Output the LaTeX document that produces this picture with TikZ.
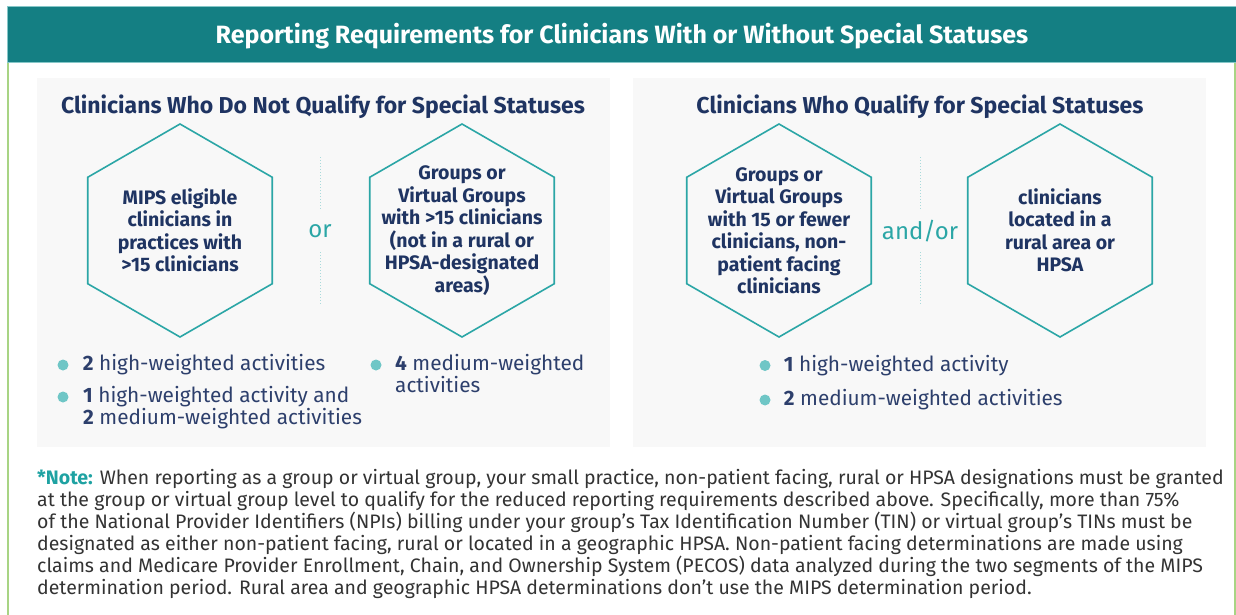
\documentclass[tikz,border=0pt]{standalone}
\usepackage{fontspec}
\setmainfont{Fira Sans}
\usetikzlibrary{shapes.geometric,positioning}
\definecolor{bandteal}{HTML}{147F83}
\definecolor{bandedge}{HTML}{86C7C8}
\definecolor{hexteal}{HTML}{2BA6A6}
\definecolor{dotteal}{HTML}{6FC6C6}
\definecolor{septeal}{HTML}{A9DADB}
\definecolor{navy}{HTML}{1F3462}
\definecolor{bodynavy}{HTML}{2D3F6C}
\definecolor{panelgray}{HTML}{F8F8F8}
\definecolor{framegreen}{HTML}{A8D484}
\definecolor{notegray}{HTML}{333333}
\definecolor{noteteal}{HTML}{1EA2A2}
\tikzstyle{band} = [rectangle, fill=bandteal, draw=bandedge, line width=1pt,
    text=white, font=\fontsize{25}{28}\selectfont\bfseries,
    text height=20pt, text depth=2pt,
    minimum width=1230pt, minimum height=56pt, inner sep=0pt]
\tikzstyle{panel} = [rectangle, fill=panelgray, minimum width=573pt,
    minimum height=369pt, inner sep=0pt]
\tikzstyle{heading} = [text=navy, font=\fontsize{23}{26}\selectfont\bfseries]
\tikzstyle{hexa} = [regular polygon, regular polygon sides=6,
    shape border rotate=30, draw=hexteal, line width=1.6pt,
    minimum size=213pt, inner sep=0pt]
\tikzstyle{hextext} = [text=navy, align=center,
    font=\fontsize{19.5}{22.5}\selectfont\bfseries]
\tikzstyle{conj} = [text=hexteal, font=\fontsize{24}{28}\selectfont,
    minimum height=42pt, inner sep=0pt]
\tikzstyle{sep} = [draw=septeal, line width=1pt, dotted]
\tikzstyle{dot} = [circle, fill=dotteal, minimum size=11pt, inner sep=0pt]
\tikzstyle{item} = [text=bodynavy, align=left, inner sep=0pt,
    font=\fontsize{20.8}{22}\selectfont]
\tikzstyle{note} = [text=notegray, align=left, inner sep=0pt,
    font=\fontsize{19.5}{22}\selectfont]

\begin{document}
\begin{tikzpicture}[x=1pt, y=-1pt]
\useasboundingbox (0,0) rectangle (1236,615);
    % Frame and panels
\draw[framegreen, line width=1.5pt] (8,63) -- (8,615);
\draw[framegreen, line width=1.5pt] (1235,63) -- (1235,615);
\node[band] (title) at (622,35) {Reporting Requirements for Clinicians With or Without Special Statuses};
\node[panel] (lpanel) at (323.5,262.5) {};
\node[panel] (rpanel) at (919.5,262.5) {};
\node[heading] (lhead) at (323,107) {Clinicians Who Do Not Qualify for Special Statuses};
\node[heading] (rhead) at (920,107) {Clinicians Who Qualify for Special Statuses};

    % Place hexagons
\node[hexa] (h1) at (180,230.5) {};
\node[hexa] (h2) at (462,230.5) {};
\node[hexa] (h3) at (779,230.5) {};
\node[hexa] (h4) at (1060,230.5) {};
\node[hextext] at (h1) {MIPS eligible\\clinicians in\\practices with\\>15 clinicians};
\node[hextext] at (h2) {Groups or\\Virtual Groups\\with >15 clinicians\\(not in a rural or\\HPSA-designated\\areas)};
\node[hextext] at (h3) {Groups or\\Virtual Groups\\with 15 or fewer\\clinicians, non-\\patient facing\\clinicians};
\node[hextext] at (h4) {clinicians\\located in a\\rural area or\\HPSA};

    % Separators
\node[conj] (or1) at (320,231) {or};
\node[conj] (or2) at (920,231) {and/or};
\coordinate (s1t) at (320,157); \coordinate (s1b) at (320,304);
\coordinate (s2t) at (920,157); \coordinate (s2b) at (920,304);
\path[sep] (s1t) -- (or1.north);
\path[sep] (or1.south) -- (s1b);
\path[sep] (s2t) -- (or2.north);
\path[sep] (or2.south) -- (s2b);

    % Bullets
\node[dot] (d1) at (63,365) {};
\node[item, right=14pt of d1] (t1) {\textbf{2} high-weighted activities};
\node[dot] (d2) at (63,397) {};
\node[item, anchor=north west] (t2) at (83,386) {\textbf{1} high-weighted activity and\\\textbf{2} medium-weighted activities};
\node[dot] (d3) at (376,365) {};
\node[item, anchor=north west] (t3) at (395,354) {\textbf{4} medium-weighted\\activities};
\node[dot] (d4) at (765,365.5) {};
\node[item, right=13pt of d4] (t4) {\textbf{1} high-weighted activity};
\node[dot] (d5) at (765,400) {};
\node[item, right=13pt of d5] (t5) {\textbf{2} medium-weighted activities};

    % Note
\node[note, anchor=north west] (note) at (37,469) {\textcolor{noteteal}{\textbf{*Note:}} When reporting as a group or virtual group, your small practice, non-patient facing, rural or HPSA designations must be granted\\
at the group or virtual group level to qualify for the reduced reporting requirements described above. Specifically, more than 75\%\\
of the National Provider Identifiers (NPIs) billing under your group’s Tax Identification Number (TIN) or virtual group’s TINs must be\\
designated as either non-patient facing, rural or located in a geographic HPSA. Non-patient facing determinations are made using\\
claims and Medicare Provider Enrollment, Chain, and Ownership System (PECOS) data analyzed during the two segments of the MIPS\\
determination period. Rural area and geographic HPSA determinations don’t use the MIPS determination period.};
\end{tikzpicture}
\end{document}
